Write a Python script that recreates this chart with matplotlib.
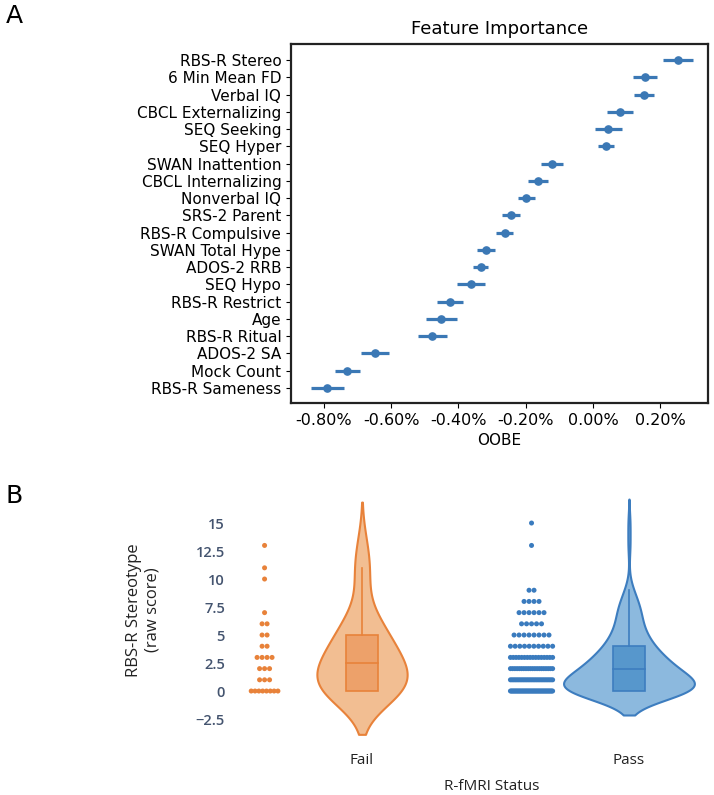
import numpy as np
import matplotlib
matplotlib.use("Agg")
import matplotlib.pyplot as plt
from matplotlib.ticker import FuncFormatter
from matplotlib.patches import Rectangle

# ---------------- Panel A data ----------------
features = ["RBS-R Stereo", "6 Min Mean FD", "Verbal IQ", "CBCL Externalizing",
            "SEQ Seeking", "SEQ Hyper", "SWAN Inattention", "CBCL Internalizing",
            "Nonverbal IQ", "SRS-2 Parent", "RBS-R Compulsive", "SWAN Total Hype",
            "ADOS-2 RRB", "SEQ Hypo", "RBS-R Restrict", "Age", "RBS-R Ritual",
            "ADOS-2 SA", "Mock Count", "RBS-R Sameness"]
oobe = [0.253, 0.154, 0.151, 0.081, 0.046, 0.038, -0.123, -0.163, -0.198, -0.244,
        -0.263, -0.319, -0.334, -0.363, -0.425, -0.451, -0.478, -0.649, -0.731, -0.790]
oobe_err = [0.044, 0.036, 0.029, 0.038, 0.039, 0.024, 0.033, 0.030, 0.026, 0.026,
            0.026, 0.027, 0.023, 0.041, 0.038, 0.046, 0.043, 0.041, 0.037, 0.050]
xticks_a = [-0.8, -0.6, -0.4, -0.2, 0.0, 0.2]

# ---------------- Panel B data ----------------
groups = ["Fail", "Pass"]
fail_vals = [0, 1, 2, 3, 4, 5, 6, 7, 10, 11, 13]
fail_counts = [8, 3, 3, 4, 2, 2, 2, 1, 1, 1, 1]
pass_vals = [0, 1, 2, 3, 4, 5, 6, 7, 8, 9, 13, 15]
pass_counts = [45, 27, 20, 16, 10, 8, 5, 6, 4, 2, 1, 1]
yticks_b = [-2.5, 0, 2.5, 5, 7.5, 10, 12.5, 15]

W, H = 714, 795
fig = plt.figure(figsize=(W / 100, H / 100), dpi=100)


def rect(l, t, r, b):
    return [l / W, 1 - b / H, (r - l) / W, (b - t) / H]


# ================= Panel A =================
axA = fig.add_axes(rect(291, 44, 708, 403))
ypos = np.arange(len(features))
blue_a = "#3b78b5"
axA.errorbar(oobe, ypos, xerr=oobe_err, fmt="o", color=blue_a, ecolor=blue_a,
             ms=5.2, elinewidth=2.3, capsize=0)
axA.set_yticks(ypos)
axA.set_yticklabels(features, fontsize=11)
axA.set_ylim(19.87, -0.93)
axA.set_xlim(-0.898, 0.342)
axA.set_xticks(xticks_a)
axA.xaxis.set_major_formatter(FuncFormatter(lambda v, p: f"{v:.2f}%"))
axA.tick_params(axis="x", labelsize=11.5)
for s in axA.spines.values():
    s.set_linewidth(1.6)
    s.set_color("#222222")
axA.set_xlabel("OOBE", fontsize=11, labelpad=4)
axA.set_title("Feature Importance", fontsize=13, pad=7)

fig.text(6 / W, 1 - 16 / H, "A", fontsize=18, va="center", ha="left",
         family=["Liberation Sans Narrow", "DejaVu Sans"])
fig.text(6 / W, 1 - 496 / H, "B", fontsize=18, va="center", ha="left",
         family=["Liberation Sans Narrow", "DejaVu Sans"])

# ================= Panel B =================
axB = fig.add_axes(rect(232, 490, 712, 745))
styles = {
    "Fail": dict(edge="#e8823a", fill="#f2be92", box="#eda16a", pts="#e8823a", hw=0.169, jit=0.05),
    "Pass": dict(edge="#3d7dbf", fill="#8cb9de", box="#5797cc", pts="#3a7bbe", hw=0.245, jit=0.079),
}
strip_offset = -0.365
box_hw = 0.06
dot_gap = 0.0187

for gi, (g, vals, cnts) in enumerate([("Fail", fail_vals, fail_counts),
                                      ("Pass", pass_vals, pass_counts)]):
    st = styles[g]
    data = np.repeat(np.array(vals, float), cnts)
    n = len(data)
    q1, med, q3 = np.percentile(data, [25, 50, 75])
    iqr = q3 - q1
    bw = 1.059 * min(data.std(ddof=1), iqr / 1.349) * n ** -0.2
    grid = np.linspace(data.min() - 2 * bw, data.max() + 2 * bw, 400)
    dens = np.exp(-0.5 * ((grid[:, None] - data[None, :]) / bw) ** 2).sum(axis=1)
    dens = dens / dens.max() * st["hw"]
    axB.fill_betweenx(grid, gi - dens, gi + dens, facecolor=st["fill"],
                      edgecolor=st["edge"], linewidth=1.5, zorder=2)
    # box
    upper = data[data <= q3 + 1.5 * iqr].max()
    lower = data[data >= q1 - 1.5 * iqr].min()
    axB.add_patch(Rectangle((gi - box_hw, q1), 2 * box_hw, q3 - q1,
                            facecolor=st["box"], edgecolor=st["edge"], lw=1.2, zorder=3))
    axB.plot([gi - box_hw, gi + box_hw], [med, med], color=st["edge"], lw=1.2, zorder=4)
    axB.plot([gi, gi], [q3, upper], color=st["edge"], lw=1.2, zorder=3)
    if lower < q1:
        axB.plot([gi, gi], [lower, q1], color=st["edge"], lw=1.2, zorder=3)
    # strip points
    xs, ys = [], []
    for v, c in zip(vals, cnts):
        half = min((c - 1) * dot_gap / 2, st["jit"])
        offs = np.linspace(-half, half, c) if c > 1 else np.array([0.0])
        xs.extend(gi + strip_offset + offs)
        ys.extend([v] * c)
    axB.scatter(xs, ys, s=13, color=st["pts"], edgecolors="none", zorder=3)

axB.set_xlim(-0.487, 1.311)
axB.set_ylim(-4.82, 17.95)
axB.set_yticks(yticks_b)
axB.set_yticklabels([("\u2212" + f"{abs(t):g}") if t < 0 else f"{t:g}" for t in yticks_b],
                    fontsize=10.5, color="#44546f", fontweight="semibold",
                    family=["Open Sans", "DejaVu Sans"])
axB.set_xticks([0, 1])
axB.set_xticklabels(groups, fontsize=11, color="#222222", family=["Open Sans", "DejaVu Sans"])
axB.tick_params(axis="both", length=0, pad=5)
axB.tick_params(axis="x", pad=6)
for s in axB.spines.values():
    s.set_visible(False)

fig.text(143 / W, 1 - 610 / H, "RBS-R Stereotype\n(raw score)", rotation=90,
         ha="center", va="center", multialignment="center", fontsize=12,
         color="#222222", family=["Open Sans", "DejaVu Sans"], linespacing=1.2)
fig.text(492 / W, 1 - 786 / H, "R-fMRI Status", ha="center", va="center",
         fontsize=11, color="#222222", family=["Open Sans", "DejaVu Sans"])

fig.savefig("out.png", dpi=100)
